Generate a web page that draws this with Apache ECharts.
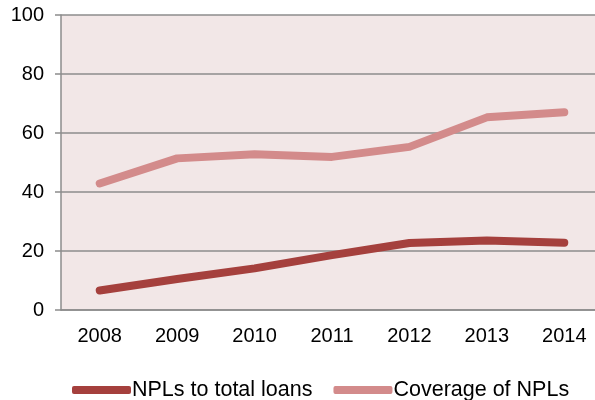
<!DOCTYPE html>
<html>
<head>
<meta charset="utf-8">
<script src="https://cdn.jsdelivr.net/npm/echarts@6/dist/echarts.min.js"></script>
<style>
  html, body { margin: 0; padding: 0; background: #fff; }
  #chart { width: 595px; height: 400px; }
</style>
</head>
<body>
<div id="chart"></div>
<script>
var years = ['2008', '2009', '2010', '2011', '2012', '2013', '2014'];
var nplToLoans = [6.6, 10.5, 14.1, 18.6, 22.7, 23.6, 22.8];
var coverageNpl = [42.9, 51.4, 52.8, 51.9, 55.3, 65.3, 67.0];
var yTicks = { min: 0, max: 100, step: 20 };

var myChart = echarts.init(document.getElementById('chart'));
var option = {
    animation: false,
    textStyle: {
        fontFamily: 'Liberation Sans, Arial, sans-serif'
    },
    legend: {
        data: ['NPLs to total loans', 'Coverage of NPLs'],
        left: 67,
        top: 374,
        icon: 'roundRect',
        itemWidth: 59,
        itemHeight: 8,
        itemGap: 21,
        textStyle: {
            fontSize: 21.5,
            color: '#000',
            padding: [0, 0, 0, -4]
        }
    },
    grid: {
        left: 61,
        width: 542,
        top: 15,
        bottom: 90,
        outerBoundsMode: 'none'
    },
    xAxis: {
        type: 'category',
        data: years,
        boundaryGap: true,
        axisLine: { lineStyle: { color: '#8c8c8c', width: 1.5 } },
        axisTick: { show: false },
        axisLabel: { fontSize: 20, color: '#000', margin: 16 }
    },
    yAxis: {
        type: 'value',
        min: yTicks.min,
        max: yTicks.max,
        interval: yTicks.step,
        axisLine: { show: true, lineStyle: { color: '#8c8c8c', width: 1.5 } },
        axisTick: { show: true, length: 6, lineStyle: { color: '#8c8c8c', width: 1.5 } },
        splitLine: { lineStyle: { color: '#8c8c8c', width: 1.5 } },
        splitArea: { show: true, areaStyle: { color: ['#f2e7e7', '#f2e7e7'] } },
        axisLabel: { fontSize: 20, color: '#000', margin: 17 }
    },
    series: [
        {
            name: 'NPLs to total loans',
            type: 'line',
            data: nplToLoans,
            symbol: 'none',
            itemStyle: { color: '#a5403d' },
            lineStyle: { color: '#a5403d', width: 8, cap: 'round', join: 'round' }
        },
        {
            name: 'Coverage of NPLs',
            type: 'line',
            data: coverageNpl,
            symbol: 'none',
            itemStyle: { color: '#d38b8b' },
            lineStyle: { color: '#d38b8b', width: 8, cap: 'round', join: 'round' }
        }
    ]
};
myChart.setOption(option);
</script>
</body>
</html>
